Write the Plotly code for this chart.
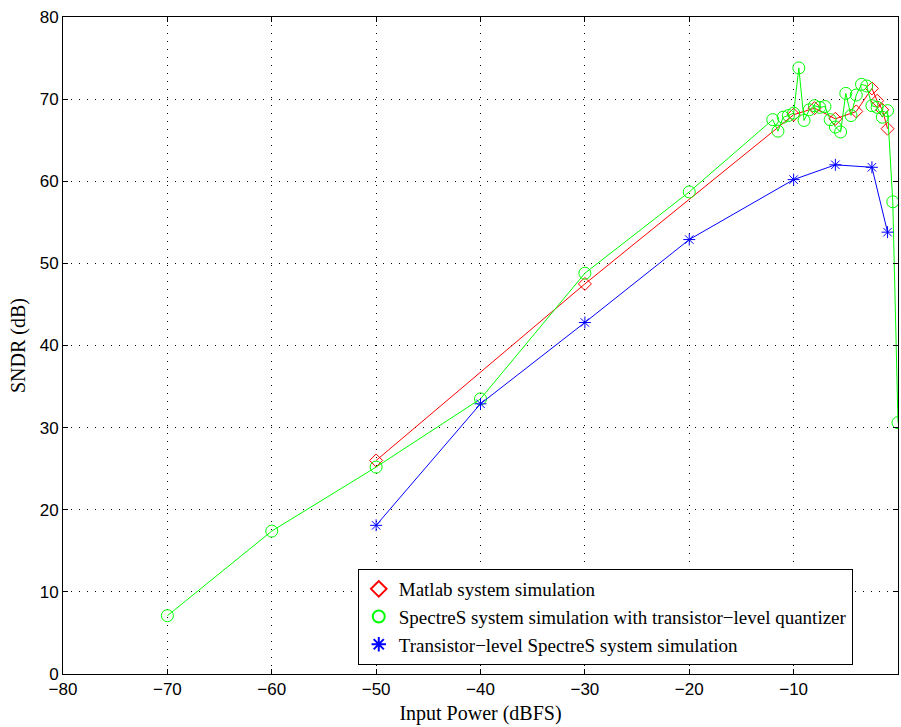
import plotly.graph_objects as go

# Matlab system simulation
matlab_x = [-50, -30, -10, -8, -6, -4, -2.5, -2, -1.5, -1]
matlab_y = [26.0, 47.5, 68.1, 68.9, 67.6, 68.5, 71.3, 69.8, 68.7, 66.4]

# SpectreS system simulation with transistor-level quantizer
spectre_q_x = [-70, -60, -50, -40, -30, -20, -12, -11.5, -11, -10.5, -10, -9.5, -9, -8.5,
               -8, -7.5, -7, -6.5, -6, -5.5, -5, -4.5, -4, -3.5, -3, -2.5, -2, -1.5,
               -1, -0.5, 0]
spectre_q_y = [7.1, 17.4, 25.2, 33.5, 48.8, 58.7, 67.5, 66.1, 67.8, 68.0, 68.3, 73.8, 67.4, 68.7,
               69.2, 69.0, 69.1, 67.5, 66.6, 66.0, 70.7, 68.0, 70.5, 71.8, 71.6, 69.2, 69.0, 67.8,
               68.6, 57.5, 30.6]

# Transistor-level SpectreS system simulation
trans_x = [-50, -40, -30, -20, -10, -6, -2.5, -1]
trans_y = [18.1, 32.9, 42.8, 52.9, 60.2, 62.0, 61.7, 53.8]

x_ticks = [-80, -70, -60, -50, -40, -30, -20, -10, 0]
y_ticks = [0, 10, 20, 30, 40, 50, 60, 70, 80]

serif = "Liberation Serif, Times New Roman, serif"
sans = "Liberation Sans, Arial, sans-serif"

fig = go.Figure()

series = [
    (matlab_x, matlab_y, "#ff0000", "diamond-open", 10, "Matlab system simulation"),
    (spectre_q_x, spectre_q_y, "#00ff00", "circle-open", 12,
     "SpectreS system simulation with transistor\u2212level quantizer"),
    (trans_x, trans_y, "#0000ff", "asterisk-open", 10, "Transistor\u2212level SpectreS system simulation"),
]

for xs, ys, col, sym, sz, name in series:
    fig.add_trace(go.Scatter(
        x=xs, y=ys, mode="lines+markers", showlegend=False,
        line=dict(color=col, width=1),
        marker=dict(symbol=sym, size=sz, color=col, line=dict(color=col, width=1)),
    ))

for xs, ys, col, sym, sz, name in series:
    fig.add_trace(go.Scatter(
        x=[None], y=[None], mode="markers", name=name, showlegend=True,
        marker=dict(symbol=sym, size=sz, color=col, line=dict(color=col, width=1)),
    ))

axis_common = dict(
    showline=True, linecolor="black", linewidth=1, mirror="ticks",
    ticks="inside", ticklen=5, tickcolor="black",
    showgrid=True, gridcolor="black", gridwidth=1, griddash="1px,7px",
    zeroline=False,
    tickfont=dict(family=sans, size=17, color="black"),
)

fig.update_xaxes(
    range=[-80, 0], tickvals=x_ticks,
    title=dict(text="Input Power (dBFS)", font=dict(family=serif, size=20, color="black"), standoff=7),
    **axis_common,
)
fig.update_yaxes(
    range=[0, 80], tickvals=y_ticks,
    title=dict(text="SNDR (dB)", font=dict(family=serif, size=20, color="black"), standoff=8),
    **axis_common,
)

fig.update_layout(
    width=901, height=727,
    margin=dict(l=63, r=3, t=17, b=53),
    paper_bgcolor="white", plot_bgcolor="white",
    legend=dict(
        x=0.353, y=0.0137, xanchor="left", yanchor="bottom",
        bgcolor="white", bordercolor="black", borderwidth=1,
        font=dict(family=serif, size=19, color="black"),
        itemsizing="constant", tracegroupgap=0,
    ),
)

fig.write_html("out.html")
